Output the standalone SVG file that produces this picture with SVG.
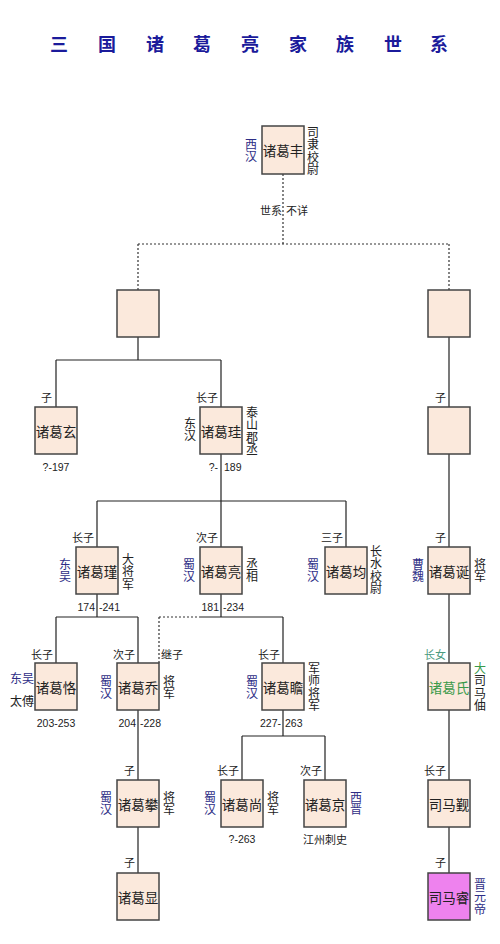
<svg xmlns="http://www.w3.org/2000/svg" width="500" height="944" viewBox="0 0 500 944">
<style>
text{font-family:"Noto Sans CJK SC","Liberation Sans",sans-serif;dominant-baseline:central}
.box{fill:#fbe9dc;stroke:#444;stroke-width:1.5}
.nm{font-size:13.5px;fill:#222;text-anchor:middle}
.lb{font-size:11px;fill:#222}
.v{font-size:12px;fill:#222;writing-mode:vertical-rl;text-anchor:start;letter-spacing:0.6px}
.sd{font-size:12px;fill:#222;text-anchor:middle}
.bl{fill:#2e2e86}
.dt{font-size:10.5px;fill:#222;font-family:"Liberation Sans",sans-serif}
.ttl{font-size:18px;font-weight:700;fill:#1b1b9b;text-anchor:middle}
.ln{stroke:#222;stroke-width:1.2;fill:none}
.ds{stroke:#333;stroke-width:1.2;fill:none;stroke-dasharray:2 2}
.end{text-anchor:end}
.mid{text-anchor:middle}
</style>
<rect width="500" height="944" fill="#fff"/>
<g id="title">
<text class="ttl" x="59" y="43">三</text><text class="ttl" x="107" y="43">国</text><text class="ttl" x="155" y="43">诸</text><text class="ttl" x="202" y="43">葛</text><text class="ttl" x="250" y="43">亮</text><text class="ttl" x="298" y="43">家</text><text class="ttl" x="345" y="43">族</text><text class="ttl" x="393" y="43">世</text><text class="ttl" x="439" y="43">系</text>
</g>
<g id="connectors">
<path class="ds" d="M283 174V244M138 244H449M138 244V290M449 244V290M159 617H200M159 617V663"/>
<path class="ln" d="M138 337V360M56 360H221M56 360V407M221 360V407M449 337V407M449 454V547M221 454V501M97 501H346M97 501V547M221 501V547M346 501V547M97 594V617M56 617H138M56 617V663M138 617V663M221 594V617M200 617H283M283 617V663M449 594V663M449 710V780M449 827V873M138 710V780M138 827V873M283 710V736M242 736H325M242 736V780M325 736V780"/>
<text class="lb end" x="282" y="210">世系</text><text class="lb" x="286" y="210">不详</text>
</g>
<g id="n-feng">
<rect class="box" x="262" y="126" width="42" height="48"/><text class="nm" x="283" y="150">诸葛丰</text>
<text class="v bl" x="251" y="138">西汉</text>
<text class="v" x="313" y="126">司隶校尉</text>
</g>
<g id="n-e1"><rect class="box" x="117" y="290" width="42" height="47"/></g>
<g id="n-e2"><rect class="box" x="428" y="290" width="42" height="47"/></g>
<g id="n-xuan">
<rect class="box" x="35" y="407" width="42" height="47"/><text class="nm" x="56" y="431">诸葛玄</text>
<text class="lb end" x="52" y="397">子</text>
<text class="dt mid" x="56" y="467">?-197</text>
</g>
<g id="n-gui">
<rect class="box" x="200" y="407" width="42" height="47"/><text class="nm" x="221" y="431">诸葛珪</text>
<text class="lb end" x="218" y="397">长子</text>
<text class="v" x="190" y="417">东汉</text>
<text class="v" x="252" y="406">泰山郡丞</text>
<text class="dt end" x="218" y="467">?-</text><text class="dt" x="224" y="467">189</text>
</g>
<g id="n-e3">
<rect class="box" x="428" y="407" width="42" height="47"/>
<text class="lb end" x="446" y="397">子</text>
</g>
<g id="n-jin">
<rect class="box" x="76" y="547" width="42" height="47"/><text class="nm" x="97" y="571">诸葛瑾</text>
<text class="lb end" x="94" y="537">长子</text>
<text class="v bl" x="65" y="558">东吴</text>
<text class="v" x="128" y="553">大将军</text>
<text class="dt end" x="95" y="607">174</text><text class="dt" x="99" y="607">-241</text>
</g>
<g id="n-liang">
<rect class="box" x="200" y="547" width="42" height="47"/><text class="nm" x="221" y="571">诸葛亮</text>
<text class="lb end" x="218" y="537">次子</text>
<text class="v bl" x="189" y="558">蜀汉</text>
<text class="v" x="252" y="558">丞相</text>
<text class="dt end" x="219" y="607">181</text><text class="dt" x="223" y="607">-234</text>
</g>
<g id="n-jun">
<rect class="box" x="325" y="547" width="42" height="47"/><text class="nm" x="346" y="571">诸葛均</text>
<text class="lb end" x="343" y="537">三子</text>
<text class="v bl" x="313" y="558">蜀汉</text>
<text class="v" x="376" y="545">长水校尉</text>
</g>
<g id="n-dan">
<rect class="box" x="428" y="547" width="42" height="47"/><text class="nm" x="449" y="571">诸葛诞</text>
<text class="lb end" x="446" y="537">子</text>
<text class="v bl" x="418" y="558">曹魏</text>
<text class="v" x="480" y="558">将军</text>
</g>
<g id="n-ke">
<rect class="box" x="35" y="663" width="42" height="47"/><text class="nm" x="56" y="687">诸葛恪</text>
<text class="lb end" x="53" y="654">长子</text>
<text class="sd bl" x="22" y="677">东吴</text>
<text class="sd" x="22" y="700">太傅</text>
<text class="dt mid" x="56" y="723">203-253</text>
</g>
<g id="n-qiao">
<rect class="box" x="117" y="663" width="42" height="47"/><text class="nm" x="138" y="687">诸葛乔</text>
<text class="lb end" x="135" y="654">次子</text>
<text class="lb" x="161" y="654">继子</text>
<text class="v bl" x="106" y="675">蜀汉</text>
<text class="v" x="169" y="675">将军</text>
<text class="dt end" x="136" y="723">204</text><text class="dt" x="140" y="723">-228</text>
</g>
<g id="n-zhan">
<rect class="box" x="262" y="663" width="42" height="47"/><text class="nm" x="283" y="687">诸葛瞻</text>
<text class="lb end" x="280" y="654">长子</text>
<text class="v bl" x="252" y="675">蜀汉</text>
<text class="v" x="314" y="662">军师将军</text>
<text class="dt end" x="281" y="723">227-</text><text class="dt" x="285" y="723">263</text>
</g>
<g id="n-shi">
<rect class="box" x="428" y="663" width="42" height="47"/><text class="nm" x="449" y="687" style="fill:#3a9a4a">诸葛氏</text>
<text class="lb end" x="446" y="654" style="fill:#4a9a80">长女</text>
<text class="v" x="480" y="662"><tspan style="fill:#3a9a4a">大</tspan>司马伷</text>
</g>
<g id="n-pan">
<rect class="box" x="117" y="780" width="42" height="47"/><text class="nm" x="138" y="804">诸葛攀</text>
<text class="lb end" x="135" y="770">子</text>
<text class="v bl" x="106" y="791">蜀汉</text>
<text class="v" x="169" y="791">将军</text>
</g>
<g id="n-shang">
<rect class="box" x="221" y="780" width="42" height="47"/><text class="nm" x="242" y="804">诸葛尚</text>
<text class="lb end" x="239" y="770">长子</text>
<text class="v bl" x="210" y="791">蜀汉</text>
<text class="v" x="273" y="791">将军</text>
<text class="dt mid" x="242" y="839">?-263</text>
</g>
<g id="n-jing">
<rect class="box" x="304" y="780" width="42" height="47"/><text class="nm" x="325" y="804">诸葛京</text>
<text class="lb end" x="322" y="770">次子</text>
<text class="v bl" x="356" y="791">西晋</text>
<text class="lb mid" x="325" y="839">江州刺史</text>
</g>
<g id="n-jin2">
<rect class="box" x="428" y="780" width="42" height="47"/><text class="nm" x="449" y="804">司马觐</text>
<text class="lb end" x="446" y="770">长子</text>
</g>
<g id="n-xian">
<rect class="box" x="117" y="873" width="42" height="47"/><text class="nm" x="138" y="897">诸葛显</text>
<text class="lb end" x="135" y="862">子</text>
</g>
<g id="n-rui">
<rect class="box" x="428" y="873" width="42" height="47" style="fill:#ee82ee"/><text class="nm" x="449" y="897">司马睿</text>
<text class="lb end" x="446" y="862">子</text>
<text class="v bl" x="480" y="878">晋元帝</text>
</g>
</svg>
